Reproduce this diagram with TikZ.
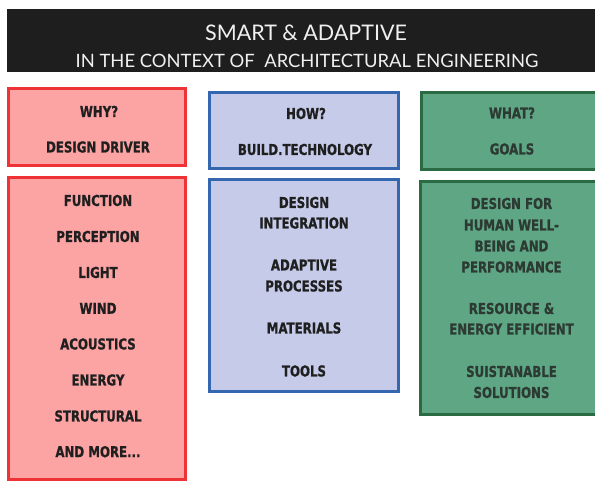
\documentclass[tikz,border=0pt]{standalone}
\usepackage{fontspec}
\newfontfamily\boxfont[FakeStretch=0.785, BoldFeatures={FakeBold=0.9}]{DejaVu Sans}
\newfontfamily\bannerfont{Lato}
\definecolor{bannerbg}{HTML}{1E1E1E}
\definecolor{bannertx}{HTML}{F0F0F0}
\definecolor{redfill}{HTML}{FCA3A3}
\definecolor{redline}{HTML}{EE3236}
\definecolor{bluefill}{HTML}{C5CBE8}
\definecolor{blueline}{HTML}{3467B0}
\definecolor{greenfill}{HTML}{5EA684}
\definecolor{greenline}{HTML}{2B6B44}
\definecolor{greentx}{HTML}{2C3A33}
\tikzset{
  panel/.style={rectangle, line width=3pt, inner sep=0pt, outer sep=0pt},
  redbox/.style={panel, draw=redline, fill=redfill},
  bluebox/.style={panel, draw=blueline, fill=bluefill},
  greenbox/.style={panel, draw=greenline, fill=greenfill},
  lbl/.style={inner sep=0pt, anchor=center, text height=10.9pt, text depth=0pt,
    font=\boxfont\bfseries\fontsize{15}{15}\selectfont, text=black!88},
  glbl/.style={lbl, text=greentx},
  ttl/.style={inner sep=0pt, anchor=center, text=bannertx, text depth=0pt},
}
\begin{document}
\begin{tikzpicture}[x=1pt,y=-1pt]
\useasboundingbox (0,0) rectangle (595,480);
\clip (0,0) rectangle (595,480);
\fill[white] (0,0) rectangle (595,480);
% banner
\node[rectangle, fill=bannerbg, inner sep=0pt, minimum width=590pt, minimum height=63pt, anchor=north west] (banner) at (7,9) {};
\node[ttl, text height=15.2pt, font=\bannerfont\fontsize{21.5}{21.5}\selectfont] (title) at (306,32.5) {SMART \& ADAPTIVE};
\node[ttl, text height=13.2pt, font=\bannerfont\fontsize{18.4}{18.4}\selectfont] (subtitle) at (307,60.5) {IN THE CONTEXT OF\ \ ARCHITECTURAL ENGINEERING};
% top boxes
\node[redbox, minimum width=177pt, minimum height=77pt] (why) at (97,127) {};
\node[bluebox, minimum width=189pt, minimum height=76pt] (how) at (304,130.5) {};
\node[greenbox, minimum width=182pt, minimum height=77pt] (what) at (512,131) {};
\node[lbl] (t-why) at (99,111.5) {WHY?};
\node[lbl] (t-driver) at (98,147) {DESIGN DRIVER};
\node[lbl] (t-how) at (306,113.5) {HOW?};
\node[lbl] (t-build) at (305,149.5) {BUILD.TECHNOLOGY};
\node[glbl] (t-what) at (512,113) {WHAT?};
\node[glbl] (t-goals) at (512,149) {GOALS};
% bottom boxes
\node[redbox, minimum width=177pt, minimum height=302pt] (drivers) at (96.5,328) {};
\node[bluebox, minimum width=189pt, minimum height=212pt] (tech) at (303.5,285) {};
\node[greenbox, minimum width=182pt, minimum height=233pt] (goals) at (511.5,298) {};
% red items
\node[lbl] (r1) at (98,200.5) {FUNCTION};
\node[lbl] (r2) at (98,236.5) {PERCEPTION};
\node[lbl] (r3) at (98,272.5) {LIGHT};
\node[lbl] (r4) at (98,308.3) {WIND};
\node[lbl] (r5) at (98,344) {ACOUSTICS};
\node[lbl] (r6) at (98,380) {ENERGY};
\node[lbl] (r7) at (98,416) {STRUCTURAL};
\node[lbl] (r8) at (98,451.7) {AND MORE...};
% blue items
\node[lbl] (b1) at (304,202.5) {DESIGN};
\node[lbl] (b2) at (304,223) {INTEGRATION};
\node[lbl] (b3) at (304,265) {ADAPTIVE};
\node[lbl] (b4) at (304,286) {PROCESSES};
\node[lbl] (b5) at (304,328) {MATERIALS};
\node[lbl] (b6) at (304,371) {TOOLS};
% green items
\node[glbl] (g1) at (511.5,203.5) {DESIGN FOR};
\node[glbl] (g2) at (511.5,225) {HUMAN WELL-};
\node[glbl] (g3) at (511.5,246) {BEING AND};
\node[glbl] (g4) at (511.5,267) {PERFORMANCE};
\node[glbl] (g5) at (511.5,308.5) {RESOURCE \&};
\node[glbl] (g6) at (511.5,329) {ENERGY EFFICIENT};
\node[glbl] (g7) at (511.5,371.5) {SUISTANABLE};
\node[glbl] (g8) at (511.5,392.5) {SOLUTIONS};
\end{tikzpicture}
\end{document}
